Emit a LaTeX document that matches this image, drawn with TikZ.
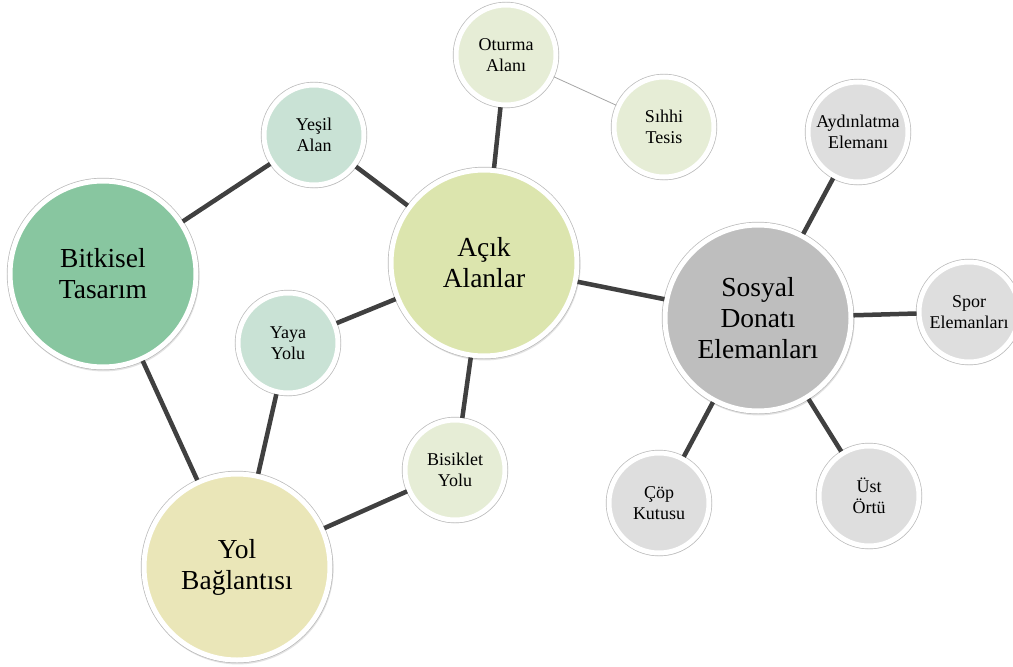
\documentclass[tikz,border=0pt]{standalone}
\usepackage{fontspec}
\setmainfont{Liberation Serif}
\usetikzlibrary{shadows}
\definecolor{cBit}{HTML}{88C6A0}
\definecolor{cMint}{HTML}{C9E2D5}
\definecolor{cAcik}{HTML}{DCE5AE}
\definecolor{cPale}{HTML}{E6EDD6}
\definecolor{cYol}{HTML}{EAE6B8}
\definecolor{cSos}{HTML}{BEBEBE}
\definecolor{cGrey}{HTML}{DEDEDE}
\definecolor{cLine}{HTML}{404040}
\begin{document}
\begin{tikzpicture}[x=1pt,y=-1pt,
  bubble/.style={circle, inner sep=0pt, align=center, text=black,
    draw=white, line width=5pt,
    drop shadow={opacity=0.22, shadow xshift=0.8pt, shadow yshift=-1.6pt, shadow scale=1.03},
    preaction={draw=gray!55, line width=6.4pt}},
  bigbub/.style={bubble, minimum size=186pt, font=\fontsize{27.5}{31}\selectfont},
  smallbub/.style={bubble, minimum size=100pt, font=\fontsize{18}{20.5}\selectfont},
  link/.style={draw=cLine, line width=4.5pt},
  thinlink/.style={draw=gray!70, line width=0.8pt}]
\useasboundingbox (0,0) rectangle (1013,667);
\clip (0,0) rectangle (1013,667);
\fill[white] (0,0) rectangle (1013,667);
% nodes
\node[bigbub, fill=cBit] (bit) at (103,274) {Bitkisel\\Tasarım};
\node[bigbub, fill=cAcik] (acik) at (484,263) {Açık\\Alanlar};
\node[bigbub, fill=cSos] (sos) at (758,318) {Sosyal\\Donatı\\Elemanları};
\node[bigbub, fill=cYol] (yol) at (237,567) {Yol\\Bağlantısı};
\node[smallbub, fill=cMint] (yesil) at (314,135) {Yeşil\\Alan};
\node[smallbub, fill=cMint] (yaya) at (288,343) {Yaya\\Yolu};
\node[smallbub, fill=cPale] (otur) at (506,55) {Oturma\\Alanı};
\node[smallbub, fill=cPale] (sihhi) at (664,127) {Sıhhi\\Tesis};
\node[smallbub, fill=cPale] (bis) at (455,470) {Bisiklet\\Yolu};
\node[smallbub, fill=cGrey] (ayd) at (858,132) {Aydınlatma\\Elemanı};
\node[smallbub, fill=cGrey] (spor) at (969,312) {Spor\\Elemanları};
\node[smallbub, fill=cGrey] (cop) at (659,503) {Çöp\\Kutusu};
\node[smallbub, fill=cGrey] (ust) at (869,496) {Üst\\Örtü};
% connectors
\draw[link] (bit) -- (yesil);
\draw[link] (yesil) -- (acik);
\draw[link] (acik) -- (otur);
\draw[thinlink] (otur) -- (sihhi);
\draw[link] (acik) -- (yaya);
\draw[link] (acik) -- (bis);
\draw[link] (acik) -- (sos);
\draw[link] (bit) -- (yol);
\draw[link] (yaya) -- (yol);
\draw[link] (bis) -- (yol);
\draw[link] (sos) -- (ayd);
\draw[link] (sos) -- (spor);
\draw[link] (sos) -- (cop);
\draw[link] (sos) -- (ust);
\end{tikzpicture}
\end{document}
